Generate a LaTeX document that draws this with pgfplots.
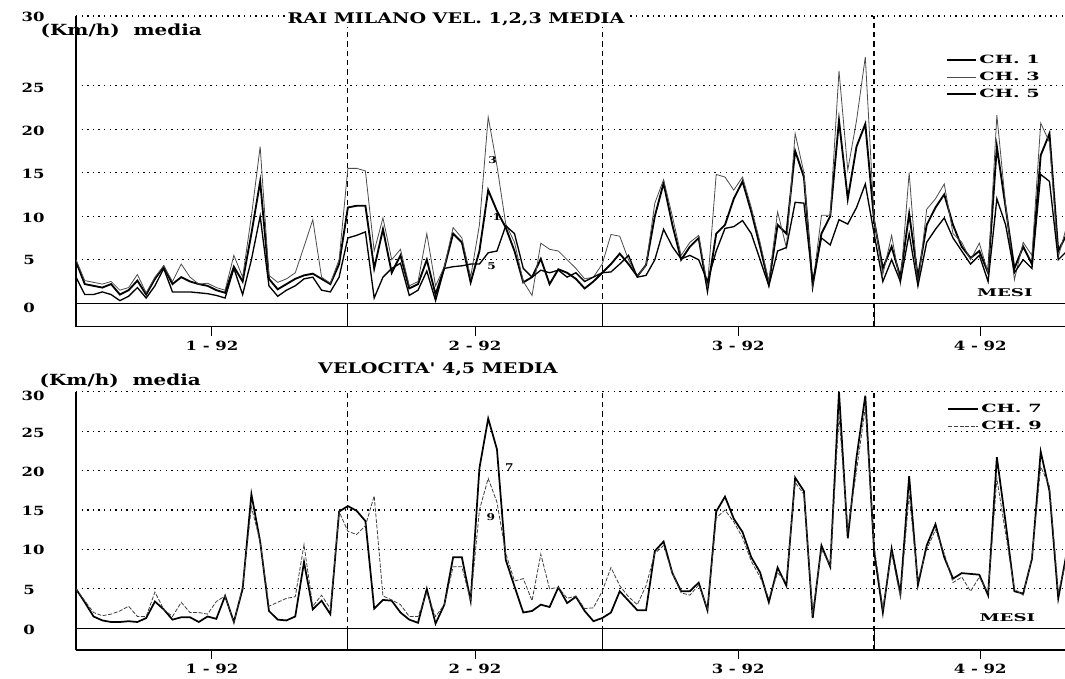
\documentclass[border=0pt]{standalone}
\usepackage{fontspec}
\setmainfont{DejaVu Serif}
\newfontfamily\wfa[FakeStretch=1.3]{DejaVu Serif}
\newfontfamily\wfb[FakeStretch=1.7]{DejaVu Serif}
\usepackage{pgfplots}
\pgfplotsset{compat=1.18}
\usepackage{pgfplotstable}

\pgfplotstableread{
day ch3 ch1 ch5
0 5.0 4.8 3.0
1 2.6 2.2 1.0
2 2.4 2.0 1.0
3 2.2 1.8 1.3
4 2.5 2.2 1.0
5 1.5 1.0 0.3
6 1.8 1.5 0.8
7 3.3 2.6 1.8
8 1.2 1.0 0.6
9 3.0 2.8 2.0
10 4.3 4.2 4.0
11 2.5 2.2 1.3
12 4.5 3.0 1.3
13 3.0 2.5 1.3
14 2.2 2.2 1.2
15 2.3 2.0 1.1
16 1.8 1.5 0.9
17 1.5 1.2 0.6
18 5.5 4.2 4.0
19 3.0 2.5 1.0
20 10.0 8.0 5.0
21 18.0 14.0 10.0
22 3.2 2.8 2.0
23 2.4 1.6 0.8
24 2.8 2.2 1.5
25 3.5 2.8 2.0
26 6.5 3.2 2.8
27 9.6 3.4 3.0
28 3.0 2.8 1.5
29 2.3 2.2 1.3
30 5.0 4.5 3.0
31 15.5 11.0 7.5
32 15.5 11.2 7.8
33 15.2 11.2 8.2
34 6.0 4.0 0.6
35 9.8 8.5 3.0
36 5.0 3.5 4.0
37 6.2 5.5 4.6
38 2.0 1.7 0.9
39 2.5 2.2 1.5
40 8.0 5.0 3.7
41 2.0 1.0 0.3
42 4.2 4.1 4.0
43 8.7 8.0 4.2
44 7.5 7.0 4.3
45 3.0 2.4 4.5
46 9.0 6.0 4.5
47 21.4 13.0 5.8
48 15.8 10.6 6.0
49 9.1 8.7 8.9
50 7.0 6.0 8.0
51 2.5 2.4 4.0
52 0.9 3.0 3.0
53 6.9 5.1 3.8
54 6.2 2.2 3.5
55 6.0 3.9 3.8
56 5.0 3.5 3.0
57 4.0 2.8 3.5
58 2.8 1.7 2.5
59 3.0 2.5 3.0
60 4.5 3.5 3.5
61 7.9 4.5 3.6
62 7.7 5.7 4.5
63 5.0 4.5 5.5
64 3.1 3.1 3.0
65 4.4 4.4 3.2
66 11.5 10.0 5.0
67 14.2 13.8 8.5
68 10.0 9.0 6.5
69 5.5 5.0 5.1
70 7.0 6.5 5.5
71 7.8 7.5 5.0
72 2.0 1.5 2.5
73 14.8 8.0 6.0
74 14.5 9.0 8.6
75 13.0 12.0 8.8
76 14.5 14.0 9.5
77 11.0 10.5 8.0
78 7.0 6.5 5.0
79 2.5 2.2 2.0
80 10.5 9.0 6.0
81 6.4 8.0 6.4
82 19.5 17.5 11.6
83 15.0 14.5 11.5
84 2.0 2.0 2.5
85 10.1 8.0 7.5
86 10.1 10.0 6.7
87 26.7 21.0 9.6
88 15.3 12.0 9.1
89 21.0 18.0 11.0
90 28.3 20.6 13.7
91 9.8 9.5 8.0
92 3.3 4.0 2.5
93 7.8 6.5 5.0
94 2.2 3.0 2.5
95 15.0 10.3 8.0
96 1.9 3.0 2.0
97 10.8 9.0 7.0
98 12.0 11.0 8.5
99 13.7 12.5 9.8
100 8.0 9.0 7.5
101 7.0 6.5 6.0
102 5.0 5.2 4.5
103 6.9 6.0 5.5
104 3.5 3.5 2.5
105 21.6 18.0 12.0
106 11.3 11.0 9.0
107 2.7 4.0 3.5
108 7.0 6.5 5.0
109 5.5 4.5 4.0
110 20.7 17.0 14.8
111 18.5 19.5 14.0
112 5.3 6.0 5.0
113 9.0 8.0 6.0
}\topdata

\pgfplotstableread{
day ch7 ch9
0 5.0 5.0
1 3.3 3.5
2 1.5 2.0
3 1.0 1.6
4 0.8 1.8
5 0.8 2.2
6 0.9 2.8
7 0.8 1.5
8 1.3 1.5
9 3.4 4.6
10 2.4 2.4
11 1.1 1.5
12 1.4 3.3
13 1.4 2.0
14 0.8 2.0
15 1.5 1.8
16 1.2 3.4
17 4.1 4.1
18 0.8 0.7
19 5.0 5.3
20 17.0 15.4
21 11.0 11.0
22 2.2 2.8
23 1.1 3.3
24 1.0 3.8
25 1.5 4.0
26 8.4 10.6
27 2.4 2.8
28 3.5 4.2
29 1.8 2.5
30 14.8 14.8
31 15.5 12.3
32 14.9 11.9
33 13.6 13.0
34 2.5 16.8
35 3.6 4.1
36 3.5 3.6
37 2.0 3.0
38 1.1 1.5
39 0.7 1.5
40 5.0 4.5
41 0.6 1.5
42 3.0 3.0
43 9.0 7.8
44 9.0 7.8
45 3.5 3.5
46 20.3 15.0
47 26.6 19.0
48 22.7 16.0
49 8.7 9.5
50 5.3 6.0
51 2.0 6.3
52 2.2 3.5
53 3.0 9.4
54 2.7 5.0
55 5.2 5.2
56 3.2 3.8
57 4.0 4.1
58 2.2 2.5
59 0.9 2.6
60 1.3 4.7
61 2.0 7.7
62 4.7 5.4
63 3.5 4.0
64 2.3 3.0
65 2.3 5.4
66 9.8 9.5
67 11.0 10.5
68 7.0 7.0
69 4.7 4.5
70 4.7 4.2
71 5.8 5.5
72 2.3 2.5
73 14.8 14.0
74 16.7 15.0
75 13.9 13.5
76 12.2 11.5
77 9.0 8.5
78 7.1 6.5
79 3.3 3.8
80 7.7 7.0
81 5.4 6.0
82 19.1 18.5
83 17.4 17.0
84 1.3 2.0
85 10.5 10.0
86 7.8 8.0
87 30.0 27.0
88 11.4 12.5
89 21.7 20.0
90 29.5 28.0
91 9.8 10.5
92 2.0 2.5
93 10.1 9.5
94 4.4 4.0
95 19.3 17.0
96 5.5 6.0
97 10.5 10.0
98 13.2 12.5
99 9.0 9.5
100 6.3 5.8
101 7.0 6.5
102 6.9 4.7
103 6.8 6.5
104 4.2 4.5
105 21.7 19.0
106 13.4 12.0
107 4.7 5.0
108 4.4 4.2
109 8.8 9.0
110 22.4 20.5
111 17.4 18.0
112 3.8 4.5
113 9.8 9.0
}\botdata

\pgfplotsset{
  panel/.style={
    scale only axis, width=741.75pt,
    xmin=0, xmax=112.77,
    axis lines=left, axis line style={-, line width=0.9pt, black},
    xtick={15.5,45.5,75.5,103.1},
    xticklabels={1 - 92, 2 - 92, 3 - 92, 4 - 92},
    tick align=inside, xtick align=outside,
    major tick length=7pt,
    xtick style={line width=0.7pt, black},
    ytick style={draw=none},
    yticklabels={},
    ymajorgrids,
    major grid style={black, line width=0.9pt, dash pattern=on 1pt off 3.2pt},
    extra x ticks={31,60,91}, extra x tick labels={},
    extra x tick style={grid=major, tick style={draw=none},
      major grid style={black, line width=0.9pt, dash pattern=on 4pt off 3pt}},
    xticklabel style={font=\wfa\bfseries\fontsize{9.5}{10}\selectfont},
    legend style={draw=none, fill=none, inner sep=0pt, row sep=1pt,
      font=\wfb\bfseries\fontsize{8.5}{9}\selectfont, legend cell align=left},
    legend image code/.code={\draw[#1] (0pt,0pt) -- (22pt,0pt);},
  }
}

\begin{document}
\begin{tikzpicture}[x=0.75pt,y=0.75pt]
\useasboundingbox (0,0) rectangle (1065,679);

% ---------- top panel ----------
\begin{axis}[panel, at={(57pt,264.2pt)}, anchor=south west,
  height=233.0pt, ymin=-2.7, ymax=33,
  ytick={0,5,10,15,20,25,33},
  legend style={at={(0.879,0.885)}, anchor=north west}]
\addplot[black, line width=1.4pt] table[x=day, y=ch1] {\topdata};
\addlegendentry{CH. 1}
\addplot[black!70, line width=0.6pt] table[x=day, y=ch3] {\topdata};
\addlegendentry{CH. 3}
\addplot[black, line width=1pt] table[x=day, y=ch5] {\topdata};
\addlegendentry{CH. 5}
\draw[black, line width=1pt] (axis cs:0,0) -- (axis cs:112.77,0);
\draw[black, line width=0.8pt] (axis cs:31,-2.7) -- (axis cs:31,0);
\draw[black, line width=0.8pt] (axis cs:60,-2.7) -- (axis cs:60,0);
\draw[black, line width=0.8pt] (axis cs:91,-2.7) -- (axis cs:91,0);
\node[font=\wfa\bfseries\fontsize{7}{8}\selectfont] at (axis cs:47.5,16.4) {3};
\node[font=\wfa\bfseries\fontsize{7}{8}\selectfont] at (axis cs:48.0,9.9) {1};
\node[font=\wfa\bfseries\fontsize{7}{8}\selectfont] at (axis cs:47.4,4.3) {5};
\node[font=\wfb\bfseries\fontsize{8}{9}\selectfont] at (axis cs:105.9,1.2) {MESI};
\end{axis}

% ---------- bottom panel ----------
\begin{axis}[panel, at={(57pt,21.75pt)}, anchor=south west,
  height=193.7pt, ymin=-2.75, ymax=30,
  ytick={0,5,10,15,20,25,30},
  legend style={at={(0.881,0.965)}, anchor=north west}]
\addplot[black, line width=1.3pt] table[x=day, y=ch7] {\botdata};
\addlegendentry{CH. 7}
\addplot[black!75, line width=0.6pt, dash pattern=on 3pt off 1.2pt] table[x=day, y=ch9] {\botdata};
\addlegendentry{CH. 9}
\draw[black, line width=1pt] (axis cs:0,0) -- (axis cs:112.77,0);
\draw[black, line width=0.8pt] (axis cs:31,-2.75) -- (axis cs:31,0);
\draw[black, line width=0.8pt] (axis cs:60,-2.75) -- (axis cs:60,0);
\draw[black, line width=0.8pt] (axis cs:91,-2.75) -- (axis cs:91,0);
\node[font=\wfa\bfseries\fontsize{7}{8}\selectfont] at (axis cs:49.4,20.5) {7};
\node[font=\wfa\bfseries\fontsize{7}{8}\selectfont] at (axis cs:47.3,14.1) {9};
\node[font=\wfb\bfseries\fontsize{8}{9}\selectfont] at (axis cs:106.2,1.35) {MESI};
\end{axis}

% ---------- y tick labels ----------
\foreach \lab/\px/\py in {0/29/371, 5/29/419, 10/33/461, 15/33/505, 20/33/548, 25/33/591, 30/33/662,
                          0/29/49, 5/29/89, 10/33/129, 15/33/168, 20/33/207, 25/33/246, 30/33/283}
  \node[font=\wfa\bfseries\fontsize{9.5}{10}\selectfont] at (\px,\py) {\lab};

% ---------- titles ----------
\node[fill=white, inner sep=1pt, font=\wfa\bfseries\fontsize{11}{12}\selectfont] at (456,660) {RAI MILANO VEL. 1,2,3 MEDIA};
\node[fill=white, inner sep=1pt, font=\wfa\bfseries\fontsize{11}{12}\selectfont] at (438,310) {VELOCITA' 4,5 MEDIA};
\node[anchor=west, font=\wfa\bfseries\fontsize{11.5}{12}\selectfont] at (36,648) {(Km/h)\ \ media};
\node[anchor=west, font=\wfa\bfseries\fontsize{11.5}{12}\selectfont] at (35,298) {(Km/h)\ \ media};
\end{tikzpicture}
\end{document}
